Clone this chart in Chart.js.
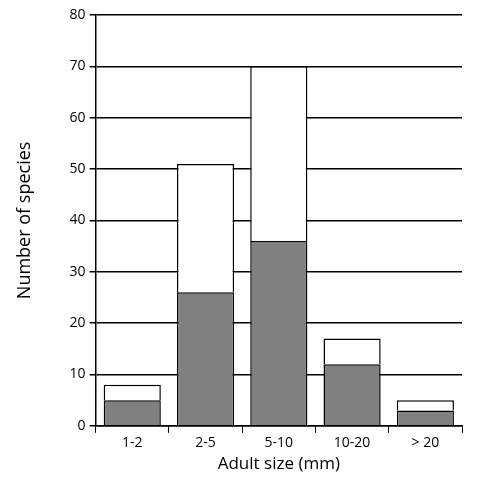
<!DOCTYPE html>
<html><head><meta charset="utf-8">
<script src="https://cdn.jsdelivr.net/npm/chart.js@4"></script>
<style>html,body{margin:0;padding:0;background:#fff}#w{width:478px;height:482px}</style>
</head><body><div id="w"><canvas id="c"></canvas></div>
<script>
const categories = ["1-2","2-5","5-10","10-20","> 20"];
const grayValues = [5,26,36,12,3];
const totalValues = [8,51,70,17,5];
const whiteValues = totalValues.map((t,i)=>t-grayValues[i]);
const yTicks = [0,10,20,30,40,50,60,70,80];
const font = {family:"'Open Sans', 'Liberation Sans', sans-serif"};
new Chart(document.getElementById('c'),{
type:'bar',
data:{labels:categories,datasets:[
 {data:grayValues,backgroundColor:'#808080',borderColor:'#000',borderWidth:1.5,categoryPercentage:0.78,barPercentage:1},
 {data:whiteValues,backgroundColor:'#fff',borderColor:'#000',borderWidth:1.5,categoryPercentage:0.78,barPercentage:1}
]},
options:{responsive:true,maintainAspectRatio:false,animation:false,
 layout:{padding:{top:15,right:16,left:10,bottom:8}},
 plugins:{legend:{display:false},tooltip:{enabled:false}},
 scales:{
  x:{stacked:true,grid:{offset:true,drawOnChartArea:false,color:'#000',tickLength:7},border:{color:'#000',width:1.5},
     ticks:{color:'#000',font:{...font,size:14},padding:2},
     title:{display:true,text:'Adult size (mm)',color:'#000',font:{...font,size:17},padding:{top:0,bottom:0}}},
  y:{stacked:true,min:0,max:80,afterBuildTicks:a=>{a.ticks=yTicks.map(v=>({value:v}))},
     grid:{color:'#000',lineWidth:1.5,tickLength:6},border:{color:'#000',width:1.5},
     ticks:{color:'#000',font:{...font,size:14},padding:4},
     title:{display:true,text:'Number of species',color:'#000',font:{...font,size:18},padding:{top:4,bottom:30}}}
 }}
});
</script></body></html>
